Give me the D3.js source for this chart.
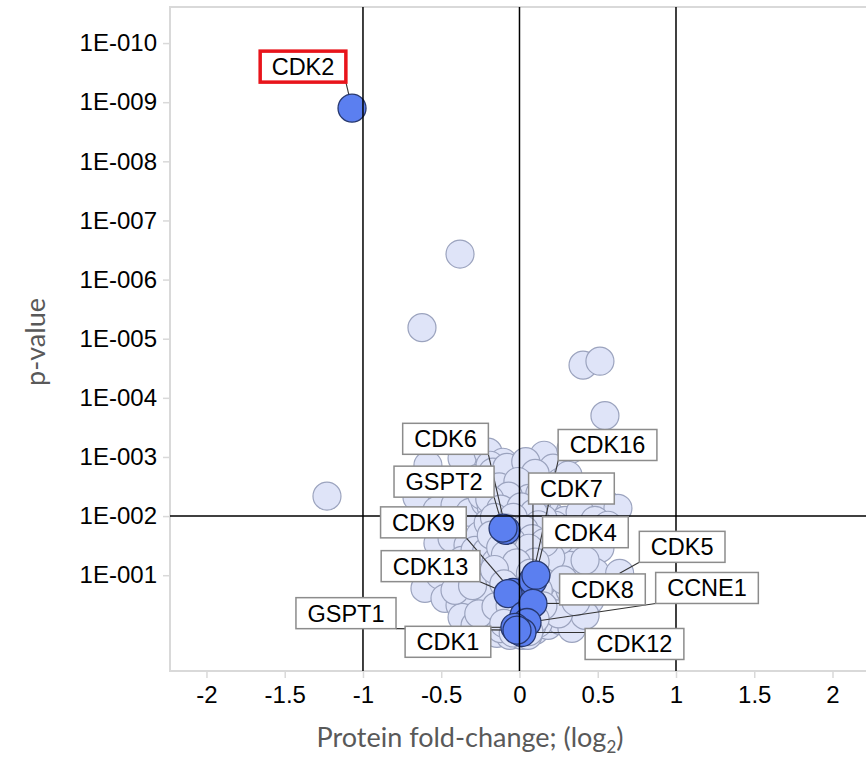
<!DOCTYPE html>
<html>
<head>
<meta charset="utf-8">
<title>Volcano plot</title>
<style>
body { margin: 0; background: #fff; }
text { font-family: "Liberation Sans", Arial, sans-serif; }
.axis text { font-size: 24px; fill: #000; }
.axis line { stroke: #d9d9d9; stroke-width: 1.5px; }
.axis path { display: none; }
.frame { fill: none; stroke: #d9d9d9; stroke-width: 2px; }
.axis-title { font-family: Lato, "Open Sans", sans-serif; font-size: 27px; fill: #595959; }
.bg-dot { fill: #dfe4f8; stroke: #9ba3be; stroke-width: 1.2px; }
.hit-dot { fill: #5b7ff0; stroke: #27386e; stroke-width: 1.3px; }
.leader { stroke: #333; stroke-width: 1.1px; }
.ref-line { stroke: #000; stroke-width: 1.5px; }
.label-box { fill: #fff; stroke: #8c8c8c; stroke-width: 1.5px; }
.label-box.marked { stroke: #e8141b; stroke-width: 3.5px; }
.label-text { font-size: 23.5px; fill: #000; }
</style>
</head>
<body>
<script src="https://d3js.org/d3.v7.min.js"></script>
<script>
// background proteins: [log2 fold-change, p-value]
var bgPoints = [
  [-0.380, 3.7e-7], [-0.623, 6.5e-6], [0.406, 2.8e-5], [0.514, 2.4e-5], [0.546, 2.0e-4], [-1.230, 4.6e-3],
  // upper part of the cloud
  [-0.585, 1.38e-3], [-0.367, 1.05e-3], [-0.201, 8.3e-4], [-0.105, 1.23e-3], [0.157, 9.35e-4], [0.214, 1.55e-3], [0.329, 7.4e-4],
  [-0.655, 4.81e-3], [-0.508, 3.66e-3], [-0.380, 2.68e-3], [-0.265, 2.29e-3], [-0.176, 3.39e-3], [-0.125, 2.04e-3], [-0.062, 3.01e-3],
  [0.067, 2.29e-3], [0.131, 3.01e-3], [0.182, 3.66e-3], [0.259, 2.68e-3], [0.310, 2.04e-3], [0.387, 4.45e-3], [0.463, 5.0e-3],
  [0.546, 6.07e-3], [0.629, 7.38e-3],
  [-0.527, 7.98e-3], [-0.412, 6.56e-3], [-0.316, 8.63e-3], [-0.220, 5.83e-3], [-0.157, 9.68e-3], [-0.062, 7.38e-3], [0.035, 6.56e-3],
  [0.118, 7.98e-3], [0.195, 9.68e-3], [0.291, 0.0118], [0.387, 8.63e-3], [0.482, 0.0118], [0.565, 0.0143],
  // middle
  [-0.521, 0.0288], [-0.431, 0.0238], [-0.329, 0.0312], [-0.252, 0.0211], [-0.157, 0.0256], [-0.062, 0.0351], [0.035, 0.0256],
  [0.118, 0.0312], [0.208, 0.0238], [0.291, 0.0379], [0.374, 0.0312], [0.450, 0.046], [0.514, 0.0351],
  [-0.604, 0.167], [-0.508, 0.100], [-0.412, 0.0826], [-0.329, 0.122], [-0.252, 0.068], [-0.176, 0.100], [-0.093, 0.0826],
  [0.003, 0.068], [0.080, 0.0518], [0.163, 0.0826], [0.246, 0.100], [0.323, 0.068], [0.399, 0.122], [0.482, 0.0893], [0.502, 0.18],
  // lower part
  [-0.476, 0.246], [-0.380, 0.323], [-0.304, 0.219], [-0.220, 0.393], [-0.137, 0.266], [-0.048, 0.393], [0.054, 0.266],
  [0.131, 0.219], [0.208, 0.323], [0.291, 0.246], [0.374, 0.363], [0.450, 0.266],
  [-0.367, 0.515], [-0.284, 0.705], [-0.201, 0.579], [-0.144, 0.962], [-0.062, 1.04], [0.016, 1.04], [0.099, 0.855],
  [0.182, 0.705], [0.259, 0.579], [0.335, 0.791], [0.419, 0.478],
  // dense centre
  [-0.093, 2.48e-3], [-0.029, 3.66e-3], [0.035, 4.45e-3], [-0.048, 5.41e-3], [0.067, 9.68e-3], [-0.093, 0.0118], [-0.010, 0.0143],
  [0.099, 0.0174], [-0.137, 0.0174], [0.003, 0.0312], [0.067, 0.046], [-0.073, 0.056], [-0.125, 0.18], [-0.029, 0.122],
  [0.035, 0.148], [0.099, 0.100], [-0.029, 0.266], [0.035, 0.478], [-0.062, 0.627], [0.067, 0.536], [0.131, 0.425],
  [-0.112, 0.425], [0.003, 0.791], [0.054, 1.04], [-0.035, 0.791],
  [-0.188, 1.38e-3], [-0.240, 4.45e-3], [0.016, 1.55e-3], [0.163, 5.41e-3], [0.227, 0.0143], [0.259, 0.0256], [0.355, 0.0174],
  [0.163, 0.056], [0.419, 0.056], [-0.367, 0.056], [-0.284, 0.0379], [-0.201, 0.148], [-0.412, 0.18], [0.323, 0.18],
  [-0.15, 2.6e-3], [-0.05, 1.9e-3], [0.09, 3.4e-3], [-0.11, 4.0e-3], [0.02, 3.0e-3], [0.11, 6.0e-3], [-0.18, 7.0e-3],
  [-0.02, 8.5e-3], [0.15, 0.011], [-0.20, 0.013], [0.05, 0.013], [-0.10, 0.022], [0.14, 0.020], [0.02, 0.020],
  [-0.21, 0.040], [-0.03, 0.043], [0.12, 0.040], [0.20, 0.050], [-0.15, 0.060], [0.04, 0.080], [-0.06, 0.110],
  [0.15, 0.130], [-0.18, 0.250], [0.10, 0.300], [0.18, 0.400], [-0.09, 0.550], [0.12, 0.650], [-0.12, 0.800],
  [0.08, 0.700], [0.25, 0.45], [-0.26, 0.45], [0.28, 0.12], [0.36, 0.28], [-0.30, 0.15],
  [-0.17, 1.8e-3], [-0.08, 1.5e-3], [0.04, 1.2e-3], [0.10, 1.9e-3], [-0.13, 3.2e-3], [-0.01, 2.6e-3], [0.06, 5.0e-3],
  [-0.07, 4.6e-3], [-0.19, 5.2e-3], [0.13, 4.2e-3], [-0.12, 7.6e-3], [0.01, 7.0e-3], [0.09, 9.0e-3], [-0.16, 0.0105],
  [-0.04, 0.0105], [0.12, 0.014], [-0.08, 0.016], [0.03, 0.017], [-0.18, 0.021], [0.08, 0.024], [-0.05, 0.027],
  [0.16, 0.028], [-0.12, 0.034], [0.06, 0.035], [-0.09, 0.045], [0.10, 0.060], [-0.02, 0.062], [-0.16, 0.080],
  [0.07, 0.092], [-0.10, 0.14], [0.12, 0.18], [0.01, 0.20], [-0.15, 0.34], [0.15, 0.33], [-0.06, 0.33],
  [0.07, 0.40], [-0.10, 0.65], [0.10, 0.55], [-0.04, 0.95], [0.06, 0.90]
];

// labelled proteins
var hitNames = ["CDK5", "CDK2", "CDK6", "GSPT2", "CDK9", "CDK13", "CDK7", "CDK4", "CDK16", "CDK8", "CCNE1", "CDK12", "CDK1", "GSPT1"];
var hitFC    = [0.64, -1.07, -0.086, -0.105, -0.042, -0.073, 0.086, 0.105, 0.029, 0.086, 0.048, 0.016, -0.029, -0.016];
var hitP     = [0.093, 1.26e-9, 0.0174, 0.016, 0.195, 0.205, 0.123, 0.100, 0.48, 0.30, 0.63, 0.93, 0.76, 0.85];
var hitShown = [false, true, true, true, true, true, true, true, true, true, true, true, true, true];

// label box offsets from the point (px)
var labelOffset = {
  CDK2: [-49, -41.5], CDK6: [-60.5, -91.5], GSPT2: [-59, -46.5], CDK9: [-89.5, -70], CDK13: [-77.5, -27.5],
  CDK7: [38.5, -92], CDK4: [49.5, -43], CDK16: [83.5, -170.5], CDK8: [69.5, -14], CCNE1: [180, -34.5],
  CDK12: [112.5, 11.5], CDK1: [-67, 14.5], GSPT1: [-171, -17], CDK5: [62.5, -26.5]
};

var xTicks = [-2, -1.5, -1, -0.5, 0, 0.5, 1, 1.5, 2];
var yTicks = [1e-10, 1e-9, 1e-8, 1e-7, 1e-6, 1e-5, 1e-4, 1e-3, 1e-2, 1e-1];
var xRefs = [-1, 0, 1];
var yRefs = [0.01];

var width = 866, height = 757;
var mLeft = 170, mTop = 7, mBottom = 671, mRight = 880;
var r = 14;

var svg = d3.select("body").append("svg")
    .attr("width", width)
    .attr("height", height);

var x = d3.scaleLinear().domain([-2.233, 2.214]).range([mLeft, 866]);
var y = d3.scaleLog().domain([Math.pow(10, -10.61), Math.pow(10, 0.62)]).range([mTop, mBottom]);

function yFmt(d) {
  var e = Math.round(-Math.log10(d));
  return "1E-" + String(e).padStart(3, "0");
}

svg.append("rect").attr("class", "frame")
    .attr("x", mLeft).attr("y", mTop)
    .attr("width", mRight - mLeft).attr("height", mBottom - mTop);

svg.append("g").attr("class", "axis")
    .attr("transform", "translate(" + mLeft + ",0)")
    .call(d3.axisLeft(y).tickValues(yTicks).tickFormat(yFmt).tickSize(7).tickPadding(6));

svg.append("g").attr("class", "axis")
    .attr("transform", "translate(0," + mBottom + ")")
    .call(d3.axisBottom(x).tickValues(xTicks).tickFormat(function(d) { return String(d); }).tickSize(7).tickPadding(8));

var gBg = svg.append("g");
var gLead = svg.append("g");
var gHit = svg.append("g");
var gRef = svg.append("g");
var gLab = svg.append("g");

gBg.selectAll("circle").data(bgPoints).enter().append("circle")
    .attr("class", "bg-dot")
    .attr("cx", function(d) { return x(d[0]); })
    .attr("cy", function(d) { return y(d[1]); })
    .attr("r", r);

var hits = hitNames.map(function(n, i) {
  return { name: n, fc: hitFC[i], p: hitP[i], shown: hitShown[i] };
});

// not-highlighted labelled point sits with the background
gBg.selectAll("circle.extra").data(hits.filter(function(d) { return !d.shown; })).enter().append("circle")
    .attr("class", "bg-dot extra")
    .attr("cx", function(d) { return x(d.fc); })
    .attr("cy", function(d) { return y(d.p); })
    .attr("r", r);

gHit.selectAll("circle").data(hits.filter(function(d) { return d.shown; })).enter().append("circle")
    .attr("class", "hit-dot")
    .attr("cx", function(d) { return x(d.fc); })
    .attr("cy", function(d) { return y(d.p); })
    .attr("r", r);

xRefs.forEach(function(v) {
  gRef.append("line").attr("class", "ref-line")
      .attr("x1", x(v)).attr("x2", x(v)).attr("y1", mTop).attr("y2", mBottom);
});
yRefs.forEach(function(v) {
  gRef.append("line").attr("class", "ref-line")
      .attr("x1", mLeft).attr("x2", mRight).attr("y1", y(v)).attr("y2", y(v));
});

// labels + leader lines
var boxH = 31, pad = 11.5;
hits.forEach(function(d) {
  var px = x(d.fc), py = y(d.p);
  var off = labelOffset[d.name];
  var cx = px + off[0], cy = py + off[1];
  var g = gLab.append("g");
  var rect = g.append("rect").attr("class", "label-box" + (d.name === "CDK2" ? " marked" : ""));
  var t = g.append("text").attr("class", "label-text")
      .attr("x", cx).attr("y", cy + 8.5)
      .attr("text-anchor", "middle")
      .text(d.name);
  var w = t.node().getComputedTextLength() + 2 * pad;
  rect.attr("x", cx - w / 2).attr("y", cy - boxH / 2).attr("width", w).attr("height", boxH);
  var qx = Math.max(cx - w / 2, Math.min(px, cx + w / 2));
  var qy = Math.max(cy - boxH / 2, Math.min(py, cy + boxH / 2));
  gLead.append("line").attr("class", "leader")
      .attr("x1", qx).attr("y1", qy).attr("x2", px).attr("y2", py);
});

// axis titles
var xt = svg.append("text").attr("class", "axis-title")
    .attr("x", 470).attr("y", 747)
    .attr("text-anchor", "middle");
xt.append("tspan").text("Protein fold-change; (log");
xt.append("tspan").attr("dy", 6).style("font-size", "17px").text("2");
xt.append("tspan").attr("dy", -6).text(")");

svg.append("text").attr("class", "axis-title")
    .attr("transform", "translate(45,342) rotate(-90)")
    .attr("text-anchor", "middle")
    .text("p-value");
</script>
</body>
</html>
